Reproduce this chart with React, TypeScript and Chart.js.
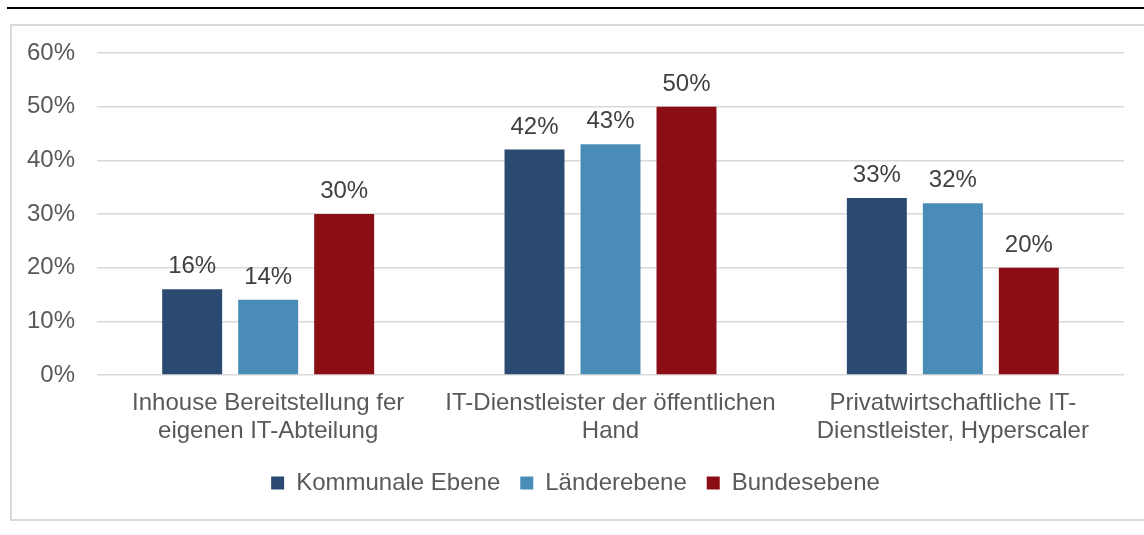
import React, { useEffect, useRef } from "react";
import { Chart, registerables } from "chart.js";

Chart.register(...registerables);

const categories: string[][] = [
  ["Inhouse Bereitstellung fer", "eigenen IT-Abteilung"],
  ["IT-Dienstleister der öffentlichen", "Hand"],
  ["Privatwirtschaftliche IT-", "Dienstleister, Hyperscaler"],
];
const seriesNames = ["Kommunale Ebene", "Länderebene", "Bundesebene"];
const kommunal = [16, 42, 33];
const laender = [14, 43, 32];
const bund = [30, 50, 20];
const seriesColors = ["#2a4a71", "#4a8cb8", "#8c0e15"];
const yMin = 0;
const yMax = 60;
const yStep = 10;

const FONT = '"Liberation Sans", Arial, sans-serif';

const valueLabels = {
  id: "valueLabels",
  afterDatasetsDraw(chart: any) {
    const { ctx } = chart;
    ctx.save();
    ctx.font = `24px ${FONT}`;
    ctx.fillStyle = "#404040";
    ctx.textAlign = "center";
    ctx.textBaseline = "alphabetic";
    chart.data.datasets.forEach((ds: any, i: number) => {
      const meta = chart.getDatasetMeta(i);
      meta.data.forEach((el: any, j: number) => {
        ctx.fillText(ds.data[j] + "%", el.x, el.y - 16);
      });
    });
    ctx.restore();
  },
};

// shift the legend row slightly left of the plot centre, as in the reference
const legendShift = {
  id: "legendShift",
  afterLayout(chart: any) {
    if (chart.legend) {
      chart.legend.left += 17;
    }
  },
};

export default function App() {
  const ref = useRef<HTMLCanvasElement | null>(null);

  useEffect(() => {
    if (!ref.current) return;
    const seriesData = [kommunal, laender, bund];
    const chart = new Chart(ref.current, {
      type: "bar",
      data: {
        labels: categories,
        datasets: seriesNames.map((name, i) => ({
          label: name,
          data: seriesData[i],
          backgroundColor: seriesColors[i],
          borderWidth: 0,
          categoryPercentage: 0.666,
          barPercentage: 0.789,
        })),
      },
      options: {
        responsive: false,
        animation: false,
        layout: { padding: { left: 10, right: 20, top: 53, bottom: 30 } },
        plugins: {
          legend: {
            position: "bottom",
            labels: {
              boxWidth: 13,
              boxHeight: 13,
              padding: 20,
              color: "#595959",
              font: { family: FONT, size: 24 },
            },
          },
          tooltip: { enabled: false },
        },
        scales: {
          x: {
            grid: { display: false, drawTicks: false },
            border: { display: false },
            ticks: {
              color: "#595959",
              padding: 14,
              font: { family: FONT, size: 24, lineHeight: 1.18 },
              maxRotation: 0,
              autoSkip: false,
            },
            afterFit: (s: any) => {
              s.height = 76;
            },
          },
          y: {
            min: yMin,
            max: yMax,
            grid: { color: "#d9d9d9", lineWidth: 1.5, drawTicks: false },
            border: { display: false },
            ticks: {
              stepSize: yStep,
              color: "#595959",
              padding: 22,
              font: { family: FONT, size: 24 },
              callback: (v: any) => v + "%",
            },
            afterFit: (s: any) => {
              s.width = 87;
            },
          },
        },
      },
      plugins: [valueLabels, legendShift],
    } as any);
    return () => chart.destroy();
  }, []);

  return (
    <div
      style={{
        position: "absolute",
        left: 0,
        top: 0,
        width: 1144,
        height: 535,
        background: "#fff",
        overflow: "hidden",
      }}
    >
      <div
        style={{
          position: "absolute",
          left: 7,
          top: 7,
          width: 1137,
          height: 2,
          background: "#000",
        }}
      />
      <div
        style={{
          position: "absolute",
          left: 10,
          top: 24,
          width: 1140,
          height: 497,
          border: "2px solid #d9d9d9",
          boxSizing: "border-box",
        }}
      />
      <canvas
        ref={ref}
        width={1144}
        height={535}
        style={{ position: "absolute", left: 0, top: 0 }}
      />
    </div>
  );
}
